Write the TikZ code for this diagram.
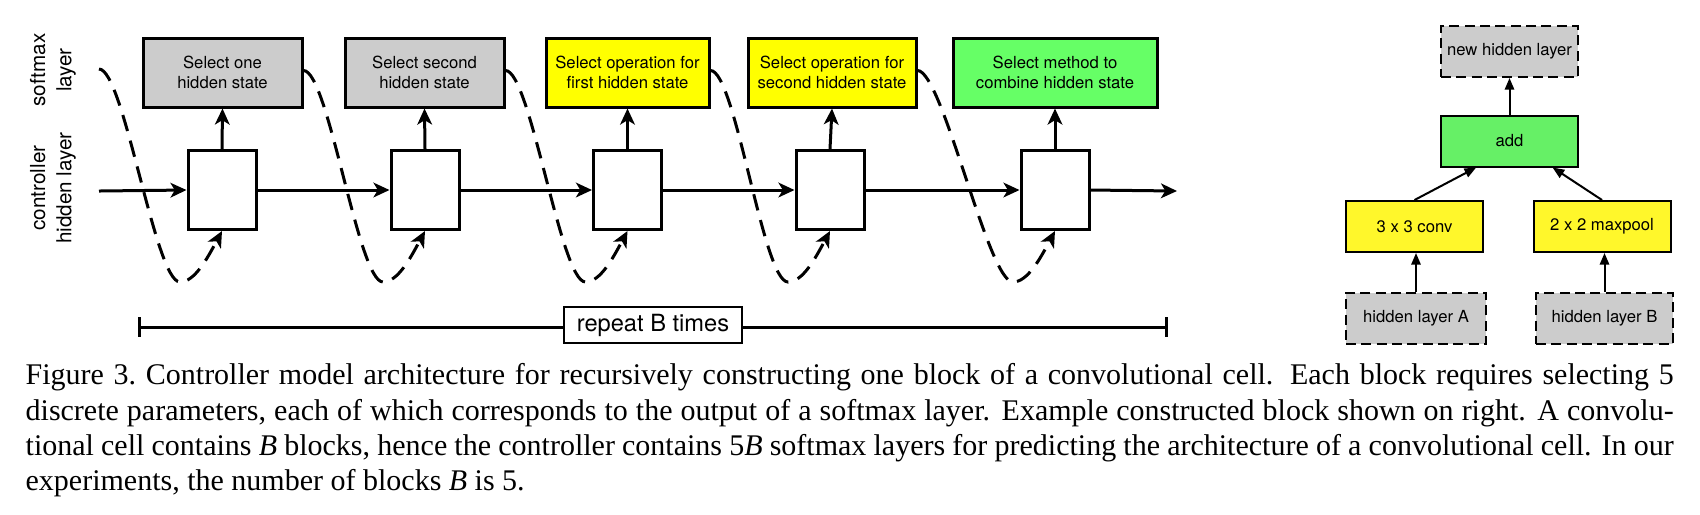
\documentclass[tikz,border=0pt]{standalone}
\usepackage{fontspec}
\setmainfont{Liberation Serif}
\setsansfont{TeX Gyre Heros}
\usepackage{tikz}
\usetikzlibrary{positioning}
\usetikzlibrary{calc,arrows.meta}

\definecolor{SoftGray}{RGB}{204,204,204}
\definecolor{SoftYellow}{RGB}{255,255,0}
\definecolor{SoftGreen}{RGB}{102,255,102}
\definecolor{CellYellow}{RGB}{255,247,43}
\definecolor{CellGreen}{RGB}{102,240,102}

\tikzset{
	rowlabel/.style={rotate=90, align=center, inner sep=0pt, font=\sffamily\fontsize{6.2}{7.9}\selectfont},
	softbox/.style={draw, line width=0.9pt, minimum height=20.7pt, inner sep=0pt, align=center, font=\sffamily\fontsize{5}{6}\selectfont},
	hidbox/.style={draw, line width=0.9pt, fill=white, minimum width=20.4pt, minimum height=23.7pt, inner sep=0pt},
	flow/.style={line width=0.9pt, -{Stealth[length=4.8pt, width=4.4pt, inset=1.3pt]}},
	feedback/.style={flow, dash pattern=on 5pt off 3pt},
	repbar/.style={line width=0.9pt, {Bar[width=5.8pt]}-{Bar[width=5.8pt]}},
	repbox/.style={draw, line width=0.4pt, fill=white, minimum width=53.4pt, minimum height=10.8pt, inner sep=0pt, font=\sffamily\fontsize{7.1}{8}\selectfont},
	cellbox/.style={draw, line width=0.6pt, minimum width=41.1pt, minimum height=15.3pt, inner sep=0pt, font=\sffamily\fontsize{5}{6}\selectfont},
	celldash/.style={dash pattern=on 3pt off 1.6pt},
	cellflow/.style={line width=0.6pt, -{Triangle[length=3.5pt, width=2.8pt]}},
	caption/.style={text width=494.4pt, align=justify, inner sep=0pt, font=\rmfamily\fontsize{9}{10.6}\selectfont}
}

\begin{document}
\begin{tikzpicture}[x=0.3pt, y=-0.3pt]

	% ------------------------------------------------
	% Fix the dimensions of the graphic
	\useasboundingbox (0,0) rectangle (1700,514);

	% ------------------------------------------------
	% Relevant coordinates
	\coordinate (InStart) at (99,191);
	\coordinate (OutEnd)  at (1177,191);
	\coordinate (Tap0)    at (99,69);
	\coordinate (RepL)    at (138,327);
	\coordinate (RepR)    at (1168,327);

	% ----------------
	% Row labels
	\node[rowlabel] (SoftLabel) at (53,70)  {softmax\\layer};
	\node[rowlabel] (CtrlLabel) at (53,188) {controller\\hidden layer};

	% ----------------
	% Softmax layers
	\node[softbox, fill=SoftGray,   minimum width=47.7pt] (Soft1) at (222.5,72.5) {Select one\\hidden state};
	\node[softbox, fill=SoftGray,   minimum width=47.7pt] (Soft2) at (424.5,72.5) {Select second\\hidden state};
	\node[softbox, fill=SoftYellow, minimum width=48.9pt] (Soft3) at (627.5,72.5) {Select operation for\\first hidden state};
	\node[softbox, fill=SoftYellow, minimum width=50.4pt] (Soft4) at (832,72.5)   {Select operation for\\second hidden state};
	\node[softbox, fill=SoftGreen,  minimum width=61.2pt] (Soft5) at (1055,72.5)  {Select method to\\combine hidden state};

	% ----------------
	% Controller hidden states
	\foreach \k/\x in {1/222, 2/425, 3/627.5, 4/830, 5/1055}
		\node[hidbox] (Hid\k) at (\x,190) {};

	\foreach \k in {1,...,4}
		\coordinate (Tap\k) at ($(Soft\k.east)+(0,-2)$);

	%%%%%%%%%%%%%%%%%%%%%%%%%%%%%%%%%%%%%%%%%
	% Recurrence
	\draw[flow] (InStart) -- (Hid1.west);
	\foreach \k [evaluate=\k as \n using int(\k+1)] in {1,...,4}
		\draw[flow] (Hid\k.east) -- (Hid\n.west);
	\draw[flow] (Hid5.east) -- (OutEnd);

	\foreach \k in {1,...,5}
		\draw[flow] (Hid\k.north) -- (Soft\k.south);

	\foreach \k [evaluate=\k as \p using int(\k-1)] in {1,...,5}
		\draw[feedback] (Tap\p) .. controls +(25,0) and +(-25,0) .. ($(Hid\k.south)+(-42,51)$)
			.. controls +(15,0) and +(-14,26) .. (Hid\k.south);

	% ----------------
	% Repeat bracket
	\draw[repbar] (RepL) -- (RepR);
	\node[repbox] (Rep) at ($(RepL)!0.5!(RepR)+(0,-2)$) {repeat B times};

	%%%%%%%%%%%%%%%%%%%%%%%%%%%%%%%%%%%%%%%%%
	% Example block
	\node[cellbox, celldash, fill=SoftGray] (NewHid) at (1509.5,51.5) {new hidden layer};
	\node[cellbox, fill=CellGreen]          (Add)    at (1509.5,141)  {add};
	\node[cellbox, fill=CellYellow]         (Conv)   at (1414.5,226.5) {3 x 3 conv};
	\node[cellbox, fill=CellYellow]         (Pool)   at (1602,226.5)  {2 x 2 maxpool};
	\node[cellbox, celldash, fill=SoftGray, minimum width=42pt] (HidA) at (1416,318.5)   {hidden layer A};
	\node[cellbox, celldash, fill=SoftGray, minimum width=41.1pt] (HidB) at (1604.5,318.5) {hidden layer B};

	\draw[cellflow] (HidA.north) -- (HidA.north |- Conv.south);
	\draw[cellflow] (HidB.north) -- (HidB.north |- Pool.south);
	\draw[cellflow] (Conv.north) -- ($(Add.south west)!0.26!(Add.south east)$);
	\draw[cellflow] (Pool.north) -- ($(Add.south west)!0.81!(Add.south east)$);
	\draw[cellflow] (Add.north) -- (NewHid.south);

	%%%%%%%%%%%%%%%%%%%%%%%%%%%%%%%%%%%%%%%%%
	% Caption
	\node[caption, anchor=north west] (Caption) at (25,363) {%
		Figure 3.\ Controller model architecture for recursively constructing one block of a convolutional cell.  Each block requires selecting 5\linebreak
		discrete parameters, each of which corresponds to the output of a softmax layer. Example constructed block shown on right. A convolu-\linebreak
		tional cell contains \textit{B} blocks, hence the controller contains 5\textit{B} softmax layers for predicting the architecture of a convolutional cell. In our\linebreak
		experiments, the number of blocks \textit{B} is 5.};

\end{tikzpicture}
\end{document}
